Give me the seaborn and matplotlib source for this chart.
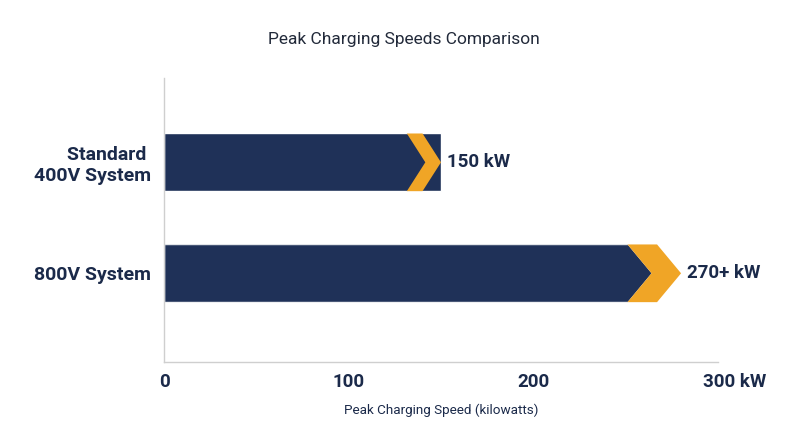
import pandas as pd
import numpy as np
import matplotlib
matplotlib.use('Agg')
import matplotlib.pyplot as plt
import matplotlib.patches as mpatches
from matplotlib.transforms import ScaledTranslation
import seaborn as sns

# Chart data
systems = ['Standard \n400V System', '800V System']
peak_speeds = [150, 280]          # drawn length of each bar (kW)
speed_labels = ['150 kW', '270+ kW']
x_ticks = [0, 100, 200, 300]
x_tick_labels = ['0', '100', '200', '300 kW']

# Colours
navy = '#1f3158'
orange = '#f0a526'
text_dark = '#1b2a4a'
spine_grey = '#cfcfcf'

sns.set_theme(style='white')
plt.rcParams['font.family'] = ['Roboto', 'DejaVu Sans']

df = pd.DataFrame({'system': systems, 'speed': peak_speeds})

fig = plt.figure(figsize=(8, 4.47), dpi=100)
ax = fig.add_axes([0.205, 0.19, 0.6925, 0.6355])

sns.barplot(data=df, x='speed', y='system', orient='h', color=navy,
            saturation=1, width=0.52, ax=ax)

############ chevron heads ############
def chevron(tip, yc, half, depth, thick):
    return [(tip - depth - thick, yc - half), (tip - depth, yc - half),
            (tip, yc), (tip - depth, yc + half),
            (tip - depth - thick, yc + half), (tip - thick, yc)]

# (depth, thickness) of the head, and whether the bar itself is cut into an arrow
head_shape = [(10, 8.5, False), (13, 16, True)]

for bar, (depth, thick, cut) in zip(ax.patches, head_shape):
    tip = bar.get_x() + bar.get_width()
    yc = bar.get_y() + bar.get_height() / 2
    half = bar.get_height() / 2
    if cut:
        # dark body ends in a point, the chevron sits right after it
        body = [(0, yc - half), (tip - depth - thick, yc - half), (tip - thick, yc),
                (tip - depth - thick, yc + half), (0, yc + half)]
        clip = mpatches.Polygon(body, closed=True, transform=ax.transData)
        bar.set_clip_path(clip)
    ax.add_patch(mpatches.Polygon(chevron(tip, yc, half, depth, thick), closed=True,
                                  facecolor=orange, edgecolor='none', zorder=3))

# value labels next to the heads
for bar, lab in zip(ax.patches, speed_labels):
    tip = bar.get_x() + bar.get_width()
    yc = bar.get_y() + bar.get_height() / 2
    ax.annotate(lab, xy=(tip, yc), xytext=(4.5, 0), textcoords='offset points',
                ha='left', va='center', fontsize=13.5, fontweight='bold', color=text_dark)

############ axes styling ############
ax.set_xlim(0, 300)
ax.set_ylim(1.8, -0.76)
ax.set_xticks(x_ticks)
ax.set_xticklabels(x_tick_labels)
ax.tick_params(axis='x', length=0, labelsize=13.5, labelcolor=text_dark, pad=8)
ax.tick_params(axis='y', length=0, labelsize=14, labelcolor=text_dark, pad=9)
for lab in ax.get_xticklabels() + ax.get_yticklabels():
    lab.set_fontweight('bold')
# keep "300" centred on its tick, with the unit hanging to the right
last = ax.get_xticklabels()[-1]
last.set_transform(last.get_transform() + ScaledTranslation(0.17, 0, fig.dpi_scale_trans))

for side in ['top', 'right']:
    ax.spines[side].set_visible(False)
for side in ['left', 'bottom']:
    ax.spines[side].set_color(spine_grey)
    ax.spines[side].set_linewidth(1)

ax.set_ylabel('')
ax.set_xlabel('Peak Charging Speed (kilowatts)', fontsize=9.7, color=text_dark, labelpad=9)
fig.text(0.505, 0.912, 'Peak Charging Speeds Comparison', ha='center', va='center',
         fontsize=12.5, color='#222a3a')

fig.savefig('out.png', dpi=100)
